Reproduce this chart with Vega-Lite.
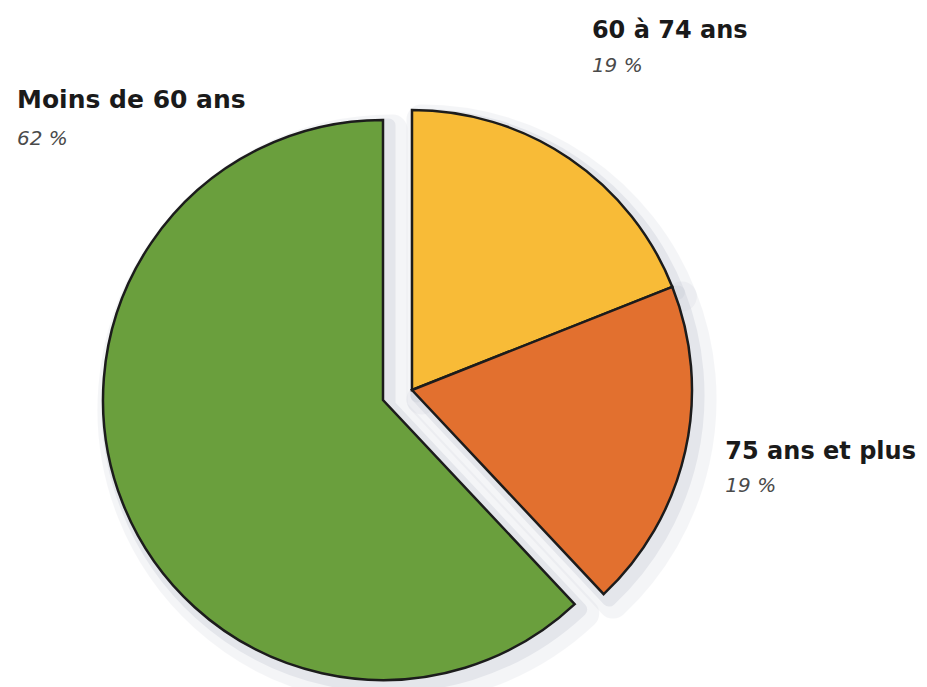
{
  "$schema": "https://vega.github.io/schema/vega-lite/v6.json",
  "width": 927,
  "height": 687,
  "padding": 0,
  "autosize": "none",
  "background": "white",
  "config": {"view": {"stroke": null}},
  "data": {
    "values": [
      {"age": "60 à 74 ans", "pct": 19, "label": "19 %"},
      {"age": "75 ans et plus", "pct": 19, "label": "19 %"},
      {"age": "Moins de 60 ans", "pct": 62, "label": "62 %"}
    ]
  },
  "encoding": {
    "theta": {"field": "pct", "type": "quantitative", "stack": true},
    "detail": {"field": "age"}
  },
  "layer": [
    {
      "mark": {"type": "arc", "outerRadius": 280, "xOffset": -42, "yOffset": 56, "fill": "#cdd0da", "stroke": "#cdd0da", "strokeWidth": 30, "strokeJoin": "round"},
      "encoding": {"opacity": {"condition": {"test": "datum.age !== 'Moins de 60 ans'", "value": 0.2}, "value": 0}}
    },
    {
      "mark": {"type": "arc", "outerRadius": 280, "xOffset": -71, "yOffset": 66, "fill": "#cdd0da", "stroke": "#cdd0da", "strokeWidth": 30, "strokeJoin": "round"},
      "encoding": {"opacity": {"condition": {"test": "datum.age === 'Moins de 60 ans'", "value": 0.2}, "value": 0}}
    },
    {
      "mark": {"type": "arc", "outerRadius": 280, "xOffset": -46, "yOffset": 52, "fill": "#cdd0da", "stroke": "#cdd0da", "strokeWidth": 14, "strokeJoin": "round"},
      "encoding": {"opacity": {"condition": {"test": "datum.age !== 'Moins de 60 ans'", "value": 0.4}, "value": 0}}
    },
    {
      "mark": {"type": "arc", "outerRadius": 280, "xOffset": -75, "yOffset": 62, "fill": "#cdd0da", "stroke": "#cdd0da", "strokeWidth": 14, "strokeJoin": "round"},
      "encoding": {"opacity": {"condition": {"test": "datum.age === 'Moins de 60 ans'", "value": 0.4}, "value": 0}}
    },
    {
      "mark": {"type": "arc", "outerRadius": 280, "xOffset": -80.5, "yOffset": 56.5, "stroke": "#1c1c1c", "strokeWidth": 2.5},
      "encoding": {
        "color": {"field": "age", "type": "nominal", "scale": {"domain": ["60 à 74 ans", "75 ans et plus", "Moins de 60 ans"], "range": ["#f8bb37", "#e2702f", "#6a9f3d"]}, "legend": null},
        "opacity": {"condition": {"test": "datum.age === 'Moins de 60 ans'", "value": 1}, "value": 0}
      }
    },
    {
      "mark": {"type": "arc", "outerRadius": 280, "xOffset": -51.5, "yOffset": 46.5, "stroke": "#1c1c1c", "strokeWidth": 2.5},
      "encoding": {
        "color": {"field": "age", "type": "nominal", "scale": {"domain": ["60 à 74 ans", "75 ans et plus", "Moins de 60 ans"], "range": ["#f8bb37", "#e2702f", "#6a9f3d"]}, "legend": null},
        "opacity": {"condition": {"test": "datum.age !== 'Moins de 60 ans'", "value": 1}, "value": 0}
      }
    },
    {
      "mark": {"type": "text", "radius": 425, "xOffset": -51.5, "yOffset": 46.5, "dx": -59, "dy": 0, "align": "left", "baseline": "alphabetic", "font": "DejaVu Sans", "fontWeight": "bold", "fontSize": 24, "fill": "#1a1a1a"},
      "encoding": {"text": {"field": "age"}, "opacity": {"condition": {"test": "datum.age === '60 à 74 ans'", "value": 1}, "value": 0}}
    },
    {
      "mark": {"type": "text", "radius": 425, "xOffset": -51.5, "yOffset": 46.5, "dx": -59, "dy": 34, "align": "left", "baseline": "alphabetic", "font": "DejaVu Sans", "fontStyle": "italic", "fontSize": 20, "fill": "#4a4a4a"},
      "encoding": {"text": {"field": "label"}, "opacity": {"condition": {"test": "datum.age === '60 à 74 ans'", "value": 1}, "value": 0}}
    },
    {
      "mark": {"type": "text", "radius": 317, "xOffset": -51.5, "yOffset": 46.5, "dx": 4, "dy": 0, "align": "left", "baseline": "alphabetic", "font": "DejaVu Sans", "fontWeight": "bold", "fontSize": 24, "fill": "#1a1a1a"},
      "encoding": {"text": {"field": "age"}, "opacity": {"condition": {"test": "datum.age === '75 ans et plus'", "value": 1}, "value": 0}}
    },
    {
      "mark": {"type": "text", "radius": 317, "xOffset": -51.5, "yOffset": 46.5, "dx": 4, "dy": 33, "align": "left", "baseline": "alphabetic", "font": "DejaVu Sans", "fontStyle": "italic", "fontSize": 20, "fill": "#4a4a4a"},
      "encoding": {"text": {"field": "label"}, "opacity": {"condition": {"test": "datum.age === '75 ans et plus'", "value": 1}, "value": 0}}
    },
    {
      "mark": {"type": "text", "radius": 300, "xOffset": -80.5, "yOffset": 56.5, "dx": -87, "dy": -402, "align": "left", "baseline": "alphabetic", "font": "DejaVu Sans", "fontWeight": "bold", "fontSize": 25, "fill": "#1a1a1a"},
      "encoding": {"text": {"field": "age"}, "opacity": {"condition": {"test": "datum.age === 'Moins de 60 ans'", "value": 1}, "value": 0}}
    },
    {
      "mark": {"type": "text", "radius": 300, "xOffset": -80.5, "yOffset": 56.5, "dx": -87, "dy": -365, "align": "left", "baseline": "alphabetic", "font": "DejaVu Sans", "fontStyle": "italic", "fontSize": 20, "fill": "#4a4a4a"},
      "encoding": {"text": {"field": "label"}, "opacity": {"condition": {"test": "datum.age === 'Moins de 60 ans'", "value": 1}, "value": 0}}
    }
  ]
}
